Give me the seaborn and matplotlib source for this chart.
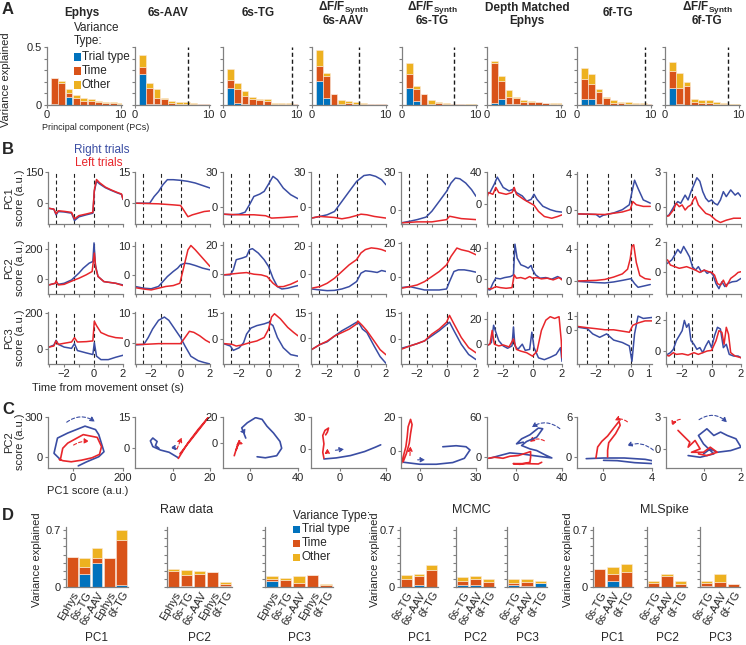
import numpy as np
import matplotlib
matplotlib.use("Agg")
import matplotlib.pyplot as plt
from matplotlib.patches import Rectangle, FancyArrowPatch
import seaborn as sns

sns.set_theme(style="ticks")
plt.rcParams["font.family"] = ["Liberation Sans", "DejaVu Sans"]
plt.rcParams["mathtext.fontset"] = "custom"
plt.rcParams["mathtext.rm"] = "Liberation Sans"
plt.rcParams["mathtext.bf"] = "Liberation Sans:bold"

C_TRIAL, C_TIME, C_OTHER = "#0072BD", "#D95319", "#EDB120"
BLUE, RED = "#3A4DA3", "#E8262B"
SYNTH = "$\\mathbf{\\Delta F/F}_{\\mathbf{Synth}}$"

# ---------------- panel A data: variance explained per PC ----------------
a_titles = [["Ephys"], ["6s-AAV"], ["6s-TG"], [SYNTH, "6s-AAV"], [SYNTH, "6s-TG"],
            ["Depth Matched", "Ephys"], ["6f-TG"], [SYNTH, "6f-TG"]]
a_title_x = [82, 168, 258, 343, 432, 527, 618, 707]
a_trial = [
    [0.005, 0.0, 0.065, 0.0, 0.0, 0.0, 0.0, 0.0, 0.0, 0.0],
    [0.27, 0.01, 0.005, 0.0, 0.0, 0.0, 0.0, 0.0, 0.0, 0.0],
    [0.15, 0.02, 0.005, 0.0, 0.0, 0.0, 0.0, 0.0, 0.0, 0.0],
    [0.206, 0.063, 0.0, 0.0, 0.0, 0.0, 0.0, 0.0, 0.0, 0.0],
    [0.147, 0.036, 0.0, 0.0, 0.0, 0.0, 0.0, 0.0, 0.0, 0.0],
    [0.02, 0.048, 0.01, 0.005, 0.0, 0.0, 0.0, 0.0, 0.0, 0.0],
    [0.048, 0.048, 0.01, 0.0, 0.0, 0.0, 0.0, 0.0, 0.0, 0.0],
    [0.147, 0.005, 0.0, 0.0, 0.0, 0.0, 0.0, 0.0, 0.0, 0.0],
]
a_time = [
    [0.232, 0.186, 0.04, 0.063, 0.035, 0.035, 0.03, 0.02, 0.015, 0.012],
    [0.06, 0.14, 0.057, 0.05, 0.015, 0.01, 0.01, 0.008, 0.006, 0.005],
    [0.063, 0.12, 0.075, 0.055, 0.043, 0.038, 0.012, 0.01, 0.008, 0.006],
    [0.131, 0.19, 0.097, 0.01, 0.02, 0.01, 0.008, 0.006, 0.005, 0.005],
    [0.123, 0.105, 0.096, 0.005, 0.02, 0.01, 0.007, 0.005, 0.004, 0.004],
    [0.34, 0.16, 0.056, 0.058, 0.025, 0.025, 0.022, 0.014, 0.012, 0.01],
    [0.177, 0.129, 0.1, 0.06, 0.02, 0.015, 0.012, 0.01, 0.008, 0.006],
    [0.149, 0.142, 0.168, 0.027, 0.02, 0.015, 0.01, 0.01, 0.003, 0.003],
]
a_other = [
    [0.0, 0.02, 0.03, 0.027, 0.022, 0.013, 0.007, 0.006, 0.008, 0.008],
    [0.104, 0.04, 0.072, 0.013, 0.022, 0.018, 0.012, 0.006, 0.004, 0.003],
    [0.097, 0.046, 0.04, 0.015, 0.007, 0.01, 0.008, 0.007, 0.006, 0.004],
    [0.133, 0.027, 0.0, 0.033, 0.014, 0.016, 0.006, 0.004, 0.003, 0.003],
    [0.09, 0.02, 0.0, 0.04, 0.01, 0.008, 0.005, 0.004, 0.002, 0.002],
    [0.017, 0.043, 0.06, 0.009, 0.02, 0.011, 0.008, 0.006, 0.006, 0.005],
    [0.095, 0.093, 0.03, 0.012, 0.025, 0.015, 0.012, 0.008, 0.007, 0.006],
    [0.074, 0.128, 0.032, 0.023, 0.022, 0.027, 0.02, 0.01, 0.002, 0.002],
]
a_cutoff = [None, 7.2, 9.4, 6.4, 7.1, None, 9.3, 8.6]

# ---------------- panel B data: PC scores vs time (t, value) ----------------
pc1_right = [
    [(-3.04, -28), (-2.7, -33), (-2.55, -60), (-2.4, -44), (-2, -46), (-1.5, -52), (-1.3, -88), (-1, -70), (-0.5, -60), (-0.05, -52), (0.05, 55), (0.2, 105), (0.4, 92), (0.8, 73), (1.2, 60), (1.6, 48), (1.9, 40), (2.0, 15)],
    [(-3.1, 0), (-2.1, 0), (-1.8, 3.2), (-1.5, 5.6), (-1.2, 8.9), (-0.9, 11.3), (-0.5, 11.3), (0, 11), (0.5, 10.5), (1.0, 9.7), (1.5, 8.5), (2, 7.3)],
    [(-3.07, -5.7), (-2.5, -6.2), (-2, -5.7), (-1.6, -4), (-1.3, 2.3), (-1.0, 9.3), (-0.6, 11.3), (-0.3, 13.6), (0, 19.8), (0.3, 26.3), (0.6, 23.5), (1.0, 16.4), (1.5, 10.8), (2, 7.4)],
    [(-3.07, -9), (-2.5, -7.6), (-2, -6.2), (-1.5, -3.4), (-1, 5.1), (-0.5, 13.6), (0, 22), (0.5, 27), (0.9, 27.7), (1.3, 26.3), (1.7, 23.5), (2, 19.2)],
    [(-3.1, -10.6), (-2.5, -9.3), (-2, -8), (-1.4, -6), (-1, -1.3), (-0.5, 6.6), (0, 14.6), (0.3, 21.2), (0.6, 25.2), (0.9, 24.6), (1.3, 21.2), (1.7, 15.9), (2, 10.6)],
    [(-3.17, 11.7), (-2.9, 13.9), (-2.6, 24.8), (-2.4, 33.5), (-2.2, 27), (-2.0, 20.4), (-1.6, 16), (-1.3, 18.3), (-1.1, 13.9), (-0.7, 9.6), (-0.4, 3), (-0.1, 5.2), (0.1, 11.7), (0.3, 5.2), (0.7, -3.5), (1.2, -7.8), (1.6, -10), (2, -10.9)],
    [(-3.1, -0.39), (-2, -0.46), (-1.8, -0.75), (-1.6, -0.54), (-1, -0.29), (-0.5, 0.07), (-0.1, 0.61), (0.05, 2.0), (0.2, 3.3), (0.4, 2.4), (0.7, 1.14), (1.1, 0.79)],
    [(-3.18, -0.87), (-2.9, -0.73), (-2.7, -0.29), (-2.5, 0.15), (-2.3, 0.44), (-2.1, 0.29), (-1.8, 1.0), (-1.6, 0.58), (-1.4, 1.3), (-1.2, 1.9), (-1.0, 2.5), (-0.8, 2.2), (-0.6, 1.3), (-0.4, 0.73), (-0.2, 0.44), (0, 0.58), (0.2, 0.29), (0.4, 0.15), (0.6, 0.58), (0.8, 1.3), (1.0, 0.87), (1.3, 1.45), (1.6, 1.0), (1.8, 1.2), (2, 0.87)],
]
pc1_left = [
    [(-3.04, -28), (-2.7, -32), (-2.55, -55), (-2.4, -40), (-2, -43), (-1.5, -48), (-1.3, -80), (-1, -64), (-0.5, -56), (-0.05, -48), (0.05, 60), (0.2, 113), (0.4, 98), (0.8, 76), (1.2, 62), (1.6, 50), (1.9, 42), (2.0, 17)],
    [(-3.1, 0), (-1.5, -0.3), (-0.5, -0.8), (0, -1.1), (0.2, -3.2), (0.5, -6.5), (0.8, -5.6), (1.2, -4.8), (1.6, -4), (2, -3.7)],
    [(-3.07, -5.7), (-2, -6.2), (-1, -6.2), (-0.2, -7), (0.2, -9), (1, -8.5), (2, -7.6)],
    [(-3.07, -9), (-2.5, -7.6), (-1.5, -8.5), (-1, -9.6), (-0.5, -8.5), (0, -6.8), (0.3, -5.7), (0.7, -6.2), (1.2, -7.6), (2, -9)],
    [(-3.1, -10.6), (-2, -9.8), (-1, -9.8), (0, -8), (0.2, -5.3), (0.5, -6), (1, -7.2), (2, -8)],
    [(-3.17, 3), (-3.0, 13.9), (-2.7, 11.7), (-2.5, 20.4), (-2.3, 13.9), (-1.8, 11.7), (-1.4, 13.9), (-1.25, 20.4), (-1.1, 11.7), (-0.6, 5.2), (-0.2, 0.9), (0.1, -2.2), (0.4, -10), (0.8, -16.5), (1.3, -18.7), (1.7, -16.5), (2, -14.4)],
    [(-3.1, -0.39), (-1.5, -0.46), (-0.5, -0.18), (-0.05, 0.07), (0.1, 0.96), (0.3, 0.61), (0.7, 0.43), (1.1, 0.43)],
    [(-3.18, -0.87), (-2.9, -0.79), (-2.6, -0.29), (-2.4, 0.29), (-2.2, 0), (-2.0, 0.15), (-1.8, -0.29), (-1.6, 0), (-1.4, 0.15), (-1.25, 0.58), (-1.1, 0.87), (-0.9, 0.15), (-0.7, -0.15), (-0.4, -0.58), (-0.1, -0.73), (0.3, -1.17), (0.6, -1.37), (1.0, -1.17), (1.5, -1.0), (2, -1.0)],
]
pc2_right = [
    [(-3.04, -40), (-2.6, -29), (-2.55, -18), (-2.4, -36), (-2, -29), (-1.5, -7), (-1.0, 38), (-0.7, 71), (-0.3, 104), (-0.05, 115), (0.03, 238), (0.12, 93), (0.3, 16), (0.7, -18), (1.5, -29), (2, -40)],
    [(-3.1, -4), (-2.5, -4.6), (-2, -4.8), (-1.5, -4), (-1.2, -2.3), (-0.9, -0.6), (-0.5, 1.15), (-0.2, 2.3), (0, 3.45), (0.3, 4), (0.6, 3.8), (1, 3.2), (1.5, 2.3), (2, 1.7)],
    [(-3.07, -0.45), (-2.6, -0.45), (-2.4, 2.95), (-2.2, 9.8), (-1.8, 10.9), (-1.5, 12), (-1.3, 16.6), (-1.1, 17.3), (-0.7, 14.3), (-0.3, 9.8), (0, 5.2), (0.3, -2.7), (0.6, -8.4), (0.9, -10), (1.3, -9.5), (1.7, -8.4), (2, -7.7)],
    [(-3.07, -10.6), (-2.5, -11.3), (-2, -11.8), (-1.5, -11.6), (-1, -10.6), (-0.5, -8.9), (0, -5.3), (0.3, 0.7), (0.6, 2.4), (1, 1.9), (1.4, 1.2), (1.7, 2.6), (2, 1.9)],
    [(-3.1, -6.6), (-2.5, -6), (-2, -7), (-1.5, -8), (-1, -8), (-0.5, -8), (0, -7.4), (0.2, -3), (0.5, 3), (0.8, 4), (1.2, 4), (1.6, 3.4), (2, 2.6)],
    [(-3.17, -13), (-2.9, -14.4), (-2.7, -5.7), (-2.5, 0.9), (-2.2, 0), (-1.9, 1.7), (-1.5, 3), (-1.3, 5.2), (-1.2, 45), (-1.05, 27), (-0.8, 18.3), (-0.5, 16), (-0.3, 13.9), (-0.1, 17.4), (0, 11.7), (0.2, 5.2), (0.5, 0.9), (0.9, 1.7), (1.3, -0.4), (1.7, 3), (2, 0)],
    [(-3.1, -0.04), (-2, -0.2), (-1.5, -0.25), (-1, -0.12), (-0.5, 0.08), (0, 0.3), (0.2, -0.33), (0.4, -0.8), (0.7, -0.65), (1.1, -0.45)],
    [(-3.18, 0.45), (-3.0, 0.57), (-2.7, 0.8), (-2.5, 1.14), (-2.3, 1.5), (-2.1, 1.25), (-1.9, 1.7), (-1.7, 1.36), (-1.5, 1.0), (-1.3, 0.34), (-1.1, 0.11), (-0.9, 0.34), (-0.7, 0), (-0.5, 0.11), (-0.3, -0.11), (-0.1, 0), (0.1, -0.23), (0.3, -0.8), (0.5, -1.14), (0.7, -0.68), (0.9, -1.0), (1.1, -0.8), (1.4, -0.68), (1.7, -0.64), (2, -0.45)],
]
pc2_left = [
    [(-3.04, -40), (-2.6, -29), (-2.55, -13), (-2.4, -40), (-2, -36), (-1.3, -7), (-1, 4), (-0.5, 27), (-0.1, 49), (0.05, 171), (0.15, 71), (0.3, 16), (0.7, -18), (1.5, -29), (2, -44)],
    [(-3.1, -4.4), (-2.5, -4.9), (-2, -5.2), (-1.5, -4.6), (-1, -4), (-0.5, -3.7), (-0.05, -2.9), (0.2, 2.3), (0.5, 8.6), (0.7, 10.1), (1, 8.6), (1.5, 5.75), (2, 2.9)],
    [(-3.07, -0.45), (-2, 0.7), (-1.5, 1.1), (-1, 0), (-0.5, -0.45), (-0.1, -1.6), (0.3, -6.1), (0.6, -8.4), (1, -8.4), (1.5, -6.8), (2, -4.5)],
    [(-3.07, -10.1), (-2.5, -8.9), (-2, -6.5), (-1.5, -2.9), (-1, 1.9), (-0.5, 6.7), (0, 10.4), (0.3, 15.2), (0.6, 17.6), (1, 18.8), (1.4, 18.3), (1.7, 17.6), (2, 16.4)],
    [(-3.1, -7), (-2.5, -6), (-2, -5), (-1.5, -3), (-1, 0), (-0.5, 3), (0, 7), (0.3, 12), (0.7, 17), (1, 16), (1.5, 15), (2, 13)],
    [(-3.17, -12.2), (-2.8, -13), (-2.5, -10), (-2.2, -11.3), (-1.8, -12.2), (-1.4, -11.3), (-1.25, 5.2), (-1.1, 0.9), (-0.8, 1.7), (-0.5, 0), (-0.2, 3), (0, 0.9), (0.3, 1.7), (0.6, 0), (1, 0.9), (1.4, -1.3), (1.8, 1.7), (2, -1.3)],
    [(-3.1, 0), (-2, 0.08), (-1.5, 0.2), (-1, 0.5), (-0.5, 0.9), (-0.2, 1.5), (-0.05, 2.8), (0.05, 4.4), (0.15, 4.6), (0.3, 2.35), (0.5, 0.7), (0.8, 0.3), (1.1, 0.2)],
    [(-3.18, 0.64), (-3.0, 0.8), (-2.8, 0.45), (-2.5, 0.34), (-2.2, 0.23), (-2.0, 0.27), (-1.7, 0.34), (-1.4, 0.23), (-1.1, 0.11), (-0.8, -0.05), (-0.5, 0.11), (-0.2, 0), (0, -0.05), (0.2, -0.23), (0.4, -0.8), (0.6, -0.9), (0.8, -0.57), (1.0, -1.0), (1.3, -0.45), (1.6, -0.23), (1.8, -0.05), (2, 0)],
]
pc3_right = [
    [(-3.04, 13), (-2.7, 24), (-2.55, 50), (-2.4, 28), (-2, 13), (-1.5, 6), (-1.3, 32), (-1.1, -6), (-0.5, -19), (-0.05, -28), (0.05, 37), (0.2, -37), (0.5, -56), (1, -56), (1.5, -43), (2, -32)],
    [(-3.1, -0.8), (-2.5, -0.6), (-2.2, 1.7), (-1.9, 4.6), (-1.5, 7.5), (-1.1, 8.6), (-0.8, 7.5), (-0.4, 4.6), (0, 1.7), (0.3, -1.15), (0.7, -4.6), (1.2, -6.1), (1.6, -6.7), (2, -7.2)],
    [(-3.07, -2.5), (-2.6, -3.9), (-2.4, -6.4), (-2, -4.9), (-1.7, -2), (-1.5, 2.9), (-1.2, 6.4), (-0.8, 7.8), (-0.3, 8.8), (0, 9.7), (0.3, 7.8), (0.6, 1), (1, -4.9), (1.5, -8.8), (2, -9.7)],
    [(-3.07, -7.3), (-2.5, -4.2), (-2, -2.5), (-1.5, 1), (-1, 4.2), (-0.5, 6.7), (0, 9.4), (0.2, 8.3), (0.4, 5.2), (0.7, 3.1), (1.2, -5.2), (1.6, -11.5), (2, -15.6)],
    [(-3.1, -5.8), (-2.5, -4.4), (-2, -3), (-1.5, -1.4), (-1, 1.6), (-0.5, 4.6), (0, 8.2), (0.2, 9.6), (0.5, 4.6), (1, -3.4), (1.5, -9.4), (2, -12.4)],
    [(-3.17, 0), (-3, -0.6), (-2.8, 1.4), (-2.65, 15.3), (-2.5, 9.7), (-2.3, 2.8), (-2, -1.4), (-1.7, -3.3), (-1.4, -1.4), (-1.3, 13.9), (-1.2, -1.4), (-1, -4.2), (-0.7, 0), (-0.5, -5), (-0.2, -4.2), (-0.05, 9.7), (0.1, -2.8), (0.4, -11), (0.8, -12.5), (1.2, -10.6), (1.6, -8.3), (1.9, -2.8), (2, -13.9)],
    [(-3.1, 0.2), (-2.5, 0.08), (-2.2, -0.3), (-1.8, -0.55), (-1.4, -0.3), (-1, -0.75), (-0.5, -0.93), (-0.1, -1.18), (0.05, -2.3), (0.2, -0.3), (0.4, 1.0), (0.7, 0.83), (1.2, 0.9)],
    [(-3.18, -0.33), (-3, -0.22), (-2.8, -0.11), (-2.6, 0.11), (-2.4, 0.67), (-2.2, 1.0), (-2, 1.33), (-1.85, 2.0), (-1.7, 1.55), (-1.55, 1.78), (-1.4, 0.67), (-1.2, 0.44), (-1, 0.11), (-0.8, 0.22), (-0.6, -0.11), (-0.4, 0.33), (-0.2, 0.67), (0, 0.22), (0.2, 1.0), (0.4, 1.55), (0.6, 1.44), (0.8, 0.22), (1, 0.44), (1.2, -0.22), (1.5, -0.33), (1.8, -0.33), (2, -0.44)],
]
pc3_left = [
    [(-3.04, 13), (-2.7, 19), (-2.55, 47), (-2.4, 28), (-2, 34), (-1.5, 41), (-1.3, 65), (-1.1, 41), (-0.5, 43), (-0.05, 47), (0.05, 155), (0.2, 131), (0.5, 93), (1, 75), (1.5, 65), (2, 62)],
    [(-3.1, -0.6), (-2.5, -0.6), (-1.5, -0.35), (-0.5, -0.35), (0, -0.35), (0.3, 1.7), (0.6, 3.8), (0.9, 3.45), (1.3, 2.3), (1.7, 0.8), (2, 0)],
    [(-3.07, -2.5), (-2.5, -2.9), (-2.2, -3.9), (-1.8, -3.3), (-1.3, -2), (-0.8, -1), (-0.3, 1), (0, 5.8), (0.2, 12.7), (0.4, 14.6), (0.8, 11.7), (1.3, 6.8), (1.7, 3.9), (2, 1.95)],
    [(-3.07, -7.3), (-2.5, -4.2), (-2, -2.1), (-1.5, 1), (-1, 3.1), (-0.5, 5.2), (0, 8.3), (0.1, 10), (0.4, 7.3), (0.7, 4.2), (1.2, -2.1), (1.6, -7.3), (2, -10.4)],
    [(-3.1, -6.4), (-2.5, -4.4), (-2, -3), (-1.5, -1.4), (-1, 2.6), (-0.5, 5.6), (0, 9.6), (0.2, 13.6), (0.5, 8.6), (1, 0.6), (1.5, -5.4), (2, -8.4)],
    [(-3.17, -1.4), (-2.9, 0), (-2.75, 11.1), (-2.6, 0), (-2.3, -1.4), (-2, -0.6), (-1.6, -2.2), (-1.3, 4.2), (-1.1, -4.2), (-0.8, -5.6), (-0.4, -6.9), (0, -9.7), (0.3, -5.6), (0.6, 11.1), (0.9, 19.4), (1.2, 22.2), (1.5, 20.8), (1.8, 22.2), (1.95, 2.8), (2, -11)],
    [(-3.1, 0.25), (-2.5, 0.15), (-2, 0.08), (-1.5, 0), (-1, 0), (-0.5, -0.1), (-0.1, -0.18), (0.1, 0.33), (0.4, 0.5), (0.8, 0.65), (1.2, 0.65)],
    [(-3.18, -0.22), (-2.9, -0.33), (-2.6, -0.11), (-2.4, -0.22), (-2, -0.18), (-1.6, -0.27), (-1.2, -0.11), (-0.9, -0.22), (-0.6, -0.11), (-0.3, 0), (0, 0.04), (0.3, 0.67), (0.5, 1.33), (0.7, 1.22), (0.85, 0.44), (1, 1.55), (1.15, 1.1), (1.3, -0.11), (1.6, -0.33), (2, -0.44)],
]
b_ylim = [
    [(-105, 150), (-10, 15), (-14, 30), (-14, 30), (-11.5, 30), (-26, 40), (-1.5, 4.2), (-1.5, 3)],
    [(-100, 244), (-6.6, 11.3), (-13.4, 21.8), (-14.2, 23), (-10.4, 20.6), (-19.6, 47.8), (-1.65, 4.95), (-1.5, 2.0)],
    [(-80, 206), (-7.2, 10.3), (-14.2, 15.6), (-16, 15.6), (-15, 15.6), (-16, 26), (-2.5, 1.3), (-0.85, 2.55)],
]
b_yticks = [
    [[0, 150], [0, 15], [0, 30], [0, 30], [0, 30], [0, 40], [0, 4], [0, 3]],
    [[0, 200], [0, 10], [0, 20], [0, 20], [0, 20], [0, 40], [0, 4], [0, 2]],
    [[0, 200], [0, 10], [0, 15], [0, 15], [0, 15], [0, 20], [0, 1], [0, 2]],
]
trial_events = [-2.55, -1.3, 0]

# ---------------- panel C data: PC1 vs PC2 trajectories ----------------
c_right = [
    [(-55, -13), (-76, 26), (-62, 141), (-21, 179), (48, 231), (90, 205), (103, 167), (124, 38), (103, 0), (55, -38), (21, -69)],
    [(3.1, -5), (-1.8, -2.3), (-6.4, -1.2), (-10.5, 0.5), (-11.8, 3.3), (-10.5, 4.7), (-8.2, 3), (-9.1, 1), (-7.3, -0.3)],
    [(-3.2, 3.9), (-6.5, 11.7), (-1.9, 15.6), (4.9, 19.5), (10.3, 18.2), (14.3, 13), (19.7, 7.8), (25.1, 1.3), (26.5, -3.9), (22.4, -9.6), (13, -11.2), (6.2, -10.4)],
    [(-13.8, -9.5), (-3.1, -8.5), (9.2, -6.3), (21.5, -2.5), (30.8, 1.6), (35.4, 3.8)],
    [(-8.8, -6.6), (0, -7.8), (8.8, -7.8), (17.6, -6.8), (23.8, -4.3), (26.8, 0.6), (24.7, 2.5), (19.4, 3.1), (12.3, 2.5)],
    [(-22.7, -1.5), (-14, 2.5), (-5.2, 6.5), (5, 5), (15.2, 2.5), (23.9, 0.5), (31.2, -1), (25.4, 3.5), (18.1, 10), (12.2, 12.5), (5, 17.5), (9.3, 23.5), (18.1, 30), (23.3, 42.5), (19.5, 43.5), (12.2, 33.5), (5, 27.5), (0.6, 20), (6.4, 22.5)],
    [(-1.35, -0.25), (0.06, -0.15), (1.75, -0.15), (3.44, -0.35), (4.28, -0.65), (4.14, -1.0), (2.59, -0.85), (1.18, -0.55), (0.06, -0.5)],
    [(-0.82, -0.63), (-0.18, -0.79), (0.55, -0.47), (0, 0.47), (-0.27, 1.26), (0.18, 1.89), (0.55, 1.26), (0.91, 1.58), (1.27, 1.26), (1.73, 0.95), (2.0, 0.16), (1.45, -0.16), (0.73, -0.32), (0.36, 0), (0, -0.47)],
]
c_left = [
    [(-51, -26), (-41, 64), (-21, 103), (41, 167), (97, 146), (114, 77), (106, 18), (76, -8), (34, -26), (-7, -38), (-40, -30), (-55, -20)],
    [(3.1, -5.3), (8, 2), (13.6, 8.8), (19, 14.7), (16, 11), (10, 4), (4, -3)],
    [(-12.7, -9.6), (-10.8, -3.9), (-8.6, 1.8), (-9.5, -1), (-11, -5)],
    [(-13.8, -8.8), (-14.8, -3.2), (-13.8, 4.7), (-14.8, 12.6), (-12.9, 17.4), (-9.8, 19.6), (-10.8, 15.8), (-12.3, 13.2)],
    [(-9.7, -7.2), (-8.8, -3.3), (-7.4, 2.5), (-6.7, 8.3), (-6.2, 14.2), (-4.9, 18.6), (-4.1, 15.5), (-4.9, 10.3), (-5.6, 4.5), (-7.1, -1.4), (-8.8, -6.2)],
    [(-24.2, -1.5), (-18.4, 0), (-11.1, -1.5), (-5.2, 1.5), (2, 2.5), (9.3, 6.5), (12.8, 8.5), (12.8, 0), (12.2, -7.5), (3.5, -10.5), (-2.3, -9.5), (9.3, -9.5), (19.5, -10), (22.4, -7.5)],
    [(-0.56, -0.15), (-0.42, 1.5), (-0.08, 2.35), (0.39, 3.15), (0.85, 4.25), (1.32, 5.35), (1.41, 4.75), (1.04, 3.5), (0.48, 2.15), (0.39, 1.0), (0.39, 0)],
    [(-1.36, 1.74), (-1.09, 1.26), (-0.73, 0.63), (-0.82, 0.16), (-0.45, 0.79), (-0.18, 0), (-0.64, -0.32), (0, -0.32), (0.36, 0.16), (0.73, -0.32), (0.18, -0.63), (-0.27, -0.47)],
]
# direction arrows: (start, end, curvature)
c_arrow_right = [((-34, 248), (97, 252), -0.4), ((3.6, -1.2), (-2.7, -0.3), 0.2), ((-4.6, 7.8), (-1.9, 13), -0.2),
                 ((-6.2, -1.6), (6.2, 0), 0.0), ((-2.6, -5.2), (4.4, -5.2), 0.0), ((40, 40), (11.7, 42.5), 0.4),
                 ((4.28, 0.75), (1.75, 1.5), 0.35), ((-0.36, 2.6), (1.36, 2.3), -0.45)]
c_arrow_left = [((-7, 77), (76, 115), -0.2), ((1.8, -2), (5.5, 6.3), 0.0), ((-8.6, 0), (-12.7, -2.6), 0.0),
                ((-10.8, -4.7), (-10.8, 3.2), 0.0), ((-5.3, -4.3), (-4.9, 4.5), 0.0), ((26.8, 22.5), (9.9, 20), 0.4),
                ((2.17, 5), (0.76, 5.3), 0.4), ((-1.09, 2.8), (-1.73, 1.9), 0.4)]
c_xlim = [(-100, 200), (-20, 20), (-22, 40), (-25, 40), (-10, 30), (-25, 40), (-2.1, 4), (-2, 2)]
c_xticks = [[0, 200], [0, 20], [0, 40], [0, 40], [0, 30], [0, 40], [0, 4], [0, 2]]
c_ylim = [(-85, 300), (-10, 15), (-19, 20), (-18, 30), (-10, 20), (-16, 60), (-1.65, 6), (-1.8, 3)]
c_yticks = [[0, 300], [0, 15], [0, 20], [0, 30], [0, 20], [0, 60], [0, 6], [0, 3]]

# ---------------- panel D data ----------------
raw_labels = ["Ephys", "6s-TG", "6s-AAV", "Ephys", "6f-TG"]
raw_trial = [[0.0, 0.156, 0.30, 0.0, 0.02], [0.0, 0.01, 0.0, 0.0, 0.01], [0.07, 0.0, 0.0, 0.0, 0.0]]
raw_time = [[0.37, 0.09, 0.06, 0.36, 0.56], [0.20, 0.134, 0.156, 0.185, 0.03], [0.03, 0.09, 0.05, 0.144, 0.02]]
raw_other = [[0.0, 0.11, 0.12, 0.0, 0.12], [0.026, 0.062, 0.044, 0.0, 0.022], [0.03, 0.025, 0.09, 0.0, 0.02]]
deconv_labels = ["6s-TG", "6s-AAV", "6f-TG"]
mcmc_trial = [[0.0, 0.02, 0.0], [0.03, 0.025, 0.0], [0.03, 0.015, 0.045]]
mcmc_time = [[0.1, 0.11, 0.21], [0.05, 0.075, 0.058], [0.02, 0.045, 0.01]]
mcmc_other = [[0.044, 0.026, 0.06], [0.04, 0.03, 0.037], [0.045, 0.04, 0.02]]
ml_trial = [[0.0, 0.07, 0.0], [0.0, 0.0, 0.0], [0.01, 0.0, 0.0]]
ml_time = [[0.22, 0.095, 0.185], [0.05, 0.13, 0.033], [0.04, 0.062, 0.04]]
ml_other = [[0.006, 0.08, 0.1], [0.03, 0.025, 0.037], [0.02, 0.094, 0.0]]

W, H = 746, 645
fig = plt.figure(figsize=(W / 100, H / 100), dpi=100)


def px_ax(l, t, w, h):
    return fig.add_axes([l / W, 1 - (t + h) / H, w / W, h / H])


def px_text(x, y, s, **kw):
    fig.text(x / W, 1 - y / H, s, **kw)


def px_square(x, y, color):
    fig.add_artist(Rectangle((x / W, 1 - (y + 3.5) / H), 7 / W, 7 / H, transform=fig.transFigure,
                             facecolor=color, edgecolor="none"))


def style(ax):
    sns.despine(ax=ax)
    for s in ["left", "bottom"]:
        ax.spines[s].set_color("#808080")
        ax.spines[s].set_linewidth(0.9)
    ax.tick_params(which="both", direction="out", color="#808080", labelsize=8, pad=1,
                   length=2.5, width=0.8)
    ax.tick_params(which="minor", length=2)
    ax.patch.set_alpha(0)


def stacked(ax, x, trial, time, other, width):
    trial = np.array(trial)
    time = np.array(time)
    other = np.array(other)
    kw = dict(width=width, edgecolor="#fbe9dc", linewidth=0.4)
    ax.bar(x, trial, color=C_TRIAL, **kw)
    ax.bar(x, time, bottom=trial, color=C_TIME, **kw)
    ax.bar(x, other, bottom=trial + time, color=C_OTHER, **kw)


# ---------------- A ----------------
a_left = [47, 135, 223, 312, 402, 487, 577, 665]
for i in range(8):
    ax = px_ax(a_left[i], 47, 75, 58)
    stacked(ax, np.arange(1, 11), a_trial[i], a_time[i], a_other[i], 0.92)
    if a_cutoff[i] is not None:
        ax.axvline(a_cutoff[i], color="k", ls=(0, (3, 2)), lw=1)
    ax.set_xlim(0, 10.2)
    ax.set_ylim(0, 0.5)
    ax.set_xticks([0, 10])
    ax.set_yticks(np.arange(0, 0.51, 0.1))
    if i == 0:
        ax.set_yticklabels(["0", "", "", "", "", "0.5"])
    else:
        ax.set_yticklabels([])
    style(ax)
    lines = a_titles[i]
    ys = [13] if len(lines) == 1 else [8, 21]
    for s, yy in zip(lines, ys):
        px_text(a_title_x[i], yy, s, ha="center", va="center", fontsize=8.5, fontweight="bold")

px_text(6, 80, "Variance explained", rotation=90, ha="center", va="center", fontsize=8)
px_text(42, 128, "Principal component (PCs)", ha="left", va="center", fontsize=6.5)
px_text(74, 28, "Variance", ha="left", va="center", fontsize=8.5)
px_text(74, 41, "Type:", ha="left", va="center", fontsize=8.5)
for yy, cc, lab in [(57, C_TRIAL, "Trial type"), (71, C_TIME, "Time"), (85, C_OTHER, "Other")]:
    px_square(74, yy, cc)
    px_text(82, yy, lab, ha="left", va="center", fontsize=8.5)

# ---------------- B ----------------
b_left = [48, 135, 223, 311, 401, 487, 577, 666]
b_top = [172, 242, 312]
rows_right = [pc1_right, pc2_right, pc3_right]
rows_left = [pc1_left, pc2_left, pc3_left]
for r in range(3):
    for i in range(8):
        ax = px_ax(b_left[i], b_top[r], 75, 52)
        for ev in trial_events:
            ax.axvline(ev, color="#222222", ls=(0, (3.5, 2.5)), lw=0.8)
        for trace, col in [(rows_right[r][i], BLUE), (rows_left[r][i], RED)]:
            t, v = zip(*trace)
            sns.lineplot(x=list(t), y=list(v), ax=ax, color=col, lw=1.1, estimator=None, sort=False)
        if i == 6:
            ax.set_xlim(-3.1, 1.2)
            ax.set_xticks([-2, 0, 1])
            ax.set_xticks([-3, -1], minor=True)
        else:
            ax.set_xlim(-3.1, 2.0)
            ax.set_xticks([-2, 0, 2])
            ax.set_xticks([-3, -1, 1], minor=True)
        ax.set_ylim(*b_ylim[r][i])
        ax.set_yticks(b_yticks[r][i])
        ax.set_yticklabels([f"{v:g}" for v in b_yticks[r][i]])
        if r < 2:
            ax.set_xticklabels([])
        style(ax)
    cy = b_top[r] + 26
    px_text(9, cy, f"PC{r + 1}", rotation=90, ha="center", va="center", fontsize=8)
    px_text(20, cy, "score (a.u.)", rotation=90, ha="center", va="center", fontsize=8)

px_text(74, 150, "Right trials", color=BLUE, ha="left", va="center", fontsize=8.5)
px_text(75, 163, "Left trials", color=RED, ha="left", va="center", fontsize=8.5)
px_text(32, 388, "Time from movement onset (s)", ha="left", va="center", fontsize=8)

# ---------------- C ----------------
for i in range(8):
    ax = px_ax(b_left[i], 417, 75, 51)
    for trace, arr, col in [(c_right[i], c_arrow_right[i], BLUE), (c_left[i], c_arrow_left[i], RED)]:
        x, y = zip(*trace)
        sns.lineplot(x=list(x), y=list(y), ax=ax, color=col, lw=1.2, estimator=None, sort=False)
        ax.add_patch(FancyArrowPatch(arr[0], arr[1], arrowstyle="-|>", mutation_scale=7,
                                     connectionstyle=f"arc3,rad={arr[2]}", color=col, lw=0.8,
                                     linestyle=(0, (3, 2)), clip_on=False))
    ax.set_xlim(*c_xlim[i])
    ax.set_ylim(*c_ylim[i])
    ax.set_xticks(c_xticks[i])
    ax.set_yticks(c_yticks[i])
    ax.set_xticklabels([f"{v:g}" for v in c_xticks[i]])
    ax.set_yticklabels([f"{v:g}" for v in c_yticks[i]])
    style(ax)

px_text(9, 442, "PC2", rotation=90, ha="center", va="center", fontsize=8)
px_text(20, 442, "score (a.u.)", rotation=90, ha="center", va="center", fontsize=8)
px_text(88, 491, "PC1 score (a.u.)", ha="center", va="center", fontsize=8)

# ---------------- D ----------------
d_specs = [
    ([66, 167, 265], [62, 65, 68], raw_labels, raw_trial, raw_time, raw_other, 37),
    ([400, 456, 507], [38, 39, 40], deconv_labels, mcmc_trial, mcmc_time, mcmc_other, 375),
    ([593, 647, 700], [40, 40, 40], deconv_labels, ml_trial, ml_time, ml_other, 568),
]
for lefts, widths, labels, tr, tm, ot, ylab_x in d_specs:
    for k in range(3):
        ax = px_ax(lefts[k], 527, widths[k], 60)
        n = len(labels)
        stacked(ax, np.arange(n), tr[k], tm[k], ot[k], 0.86)
        ax.set_xlim(-0.5, n - 0.5)
        ax.set_ylim(0, 0.74)
        ax.set_xticks(np.arange(n))
        ax.set_xticklabels(labels, rotation=60, ha="right", rotation_mode="anchor", fontsize=8)
        ax.set_yticks(np.arange(0, 0.71, 0.1))
        if k == 0:
            ax.set_yticklabels(["0", "", "", "", "", "", "", "0.7"])
        else:
            ax.set_yticklabels([])
        style(ax)
        ax.tick_params(axis="x", length=0, pad=2)
        px_text(lefts[k] + widths[k] / 2, 638, f"PC{k + 1}", ha="center", va="center", fontsize=8.5)
    px_text(ylab_x, 560, "Variance explained", rotation=90, ha="center", va="center", fontsize=8)

px_text(187, 510, "Raw data", ha="center", va="center", fontsize=9)
px_text(471, 510, "MCMC", ha="center", va="center", fontsize=9)
px_text(664, 510, "MLSpike", ha="center", va="center", fontsize=9)
px_text(293, 516, "Variance Type:", ha="left", va="center", fontsize=8.5)
for yy, cc, lab in [(529, C_TRIAL, "Trial type"), (543, C_TIME, "Time"), (557, C_OTHER, "Other")]:
    px_square(293, yy, cc)
    px_text(302, yy, lab, ha="left", va="center", fontsize=8.5)

# panel letters
for lab, yy in [("A", 9), ("B", 149), ("C", 409), ("D", 516)]:
    px_text(2, yy, lab, ha="left", va="center", fontsize=12, fontweight="bold")

fig.savefig("out.png", dpi=100)
